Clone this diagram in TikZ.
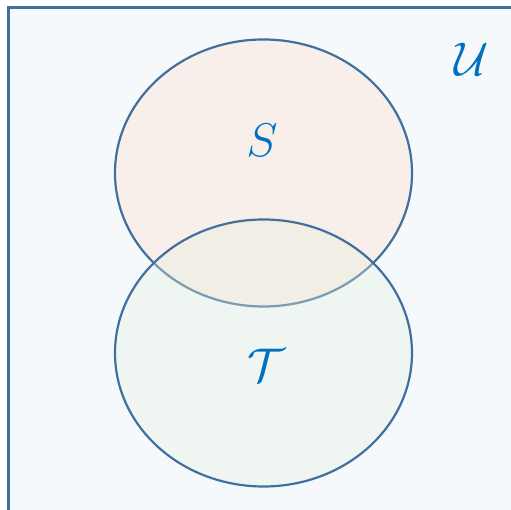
\documentclass[tikz,border=0pt]{standalone}
\usepackage{amsmath}
\usepackage{amssymb}
\usepackage{xcolor}
\usetikzlibrary{positioning}
\definecolor{edgeblue}{HTML}{41709F}
\definecolor{letterblue}{HTML}{0070C0}
\definecolor{univfill}{HTML}{F5F9FC}
\definecolor{sfill}{HTML}{F8EFEA}
\definecolor{tfill}{HTML}{E4EEDD}
\tikzset{
  setedge/.style={draw=edgeblue,line width=2.2pt},
  setlabel/.style={text=letterblue,font=\Huge,inner sep=0pt,scale=1.9,transform shape}
}

\begin{document}
\begin{tikzpicture}[x=1pt,y=1pt]
  \useasboundingbox (0,0) rectangle (511,510);
  \clip (0,0) rectangle (511,510);
  \def\rx{148.5}
  \def\ry{133.5}
  % universe
  \draw[edgeblue,line width=2.5pt,fill=univfill] (8.5,-20) rectangle (540,502.5);
  % the two sets
  \coordinate (cS) at (263.5,337);
  \coordinate (cT) at (263.5,157);
  \fill[sfill] (cS) ellipse [x radius=\rx,y radius=\ry];
  \draw[setedge] (cS) ellipse [x radius=\rx,y radius=\ry];
  \fill[tfill,fill opacity=0.35] (cT) ellipse [x radius=\rx,y radius=\ry];
  \draw[setedge] (cT) ellipse [x radius=\rx,y radius=\ry];
  % labels
  \node[setlabel] (labS) at (262,370) {$S$};
  \node[setlabel] (labT) at (266,145) {$\mathcal{T}$};
  \node[setlabel] (labU) at (472,451) {$\mathcal{U}$};
\end{tikzpicture}
\end{document}
